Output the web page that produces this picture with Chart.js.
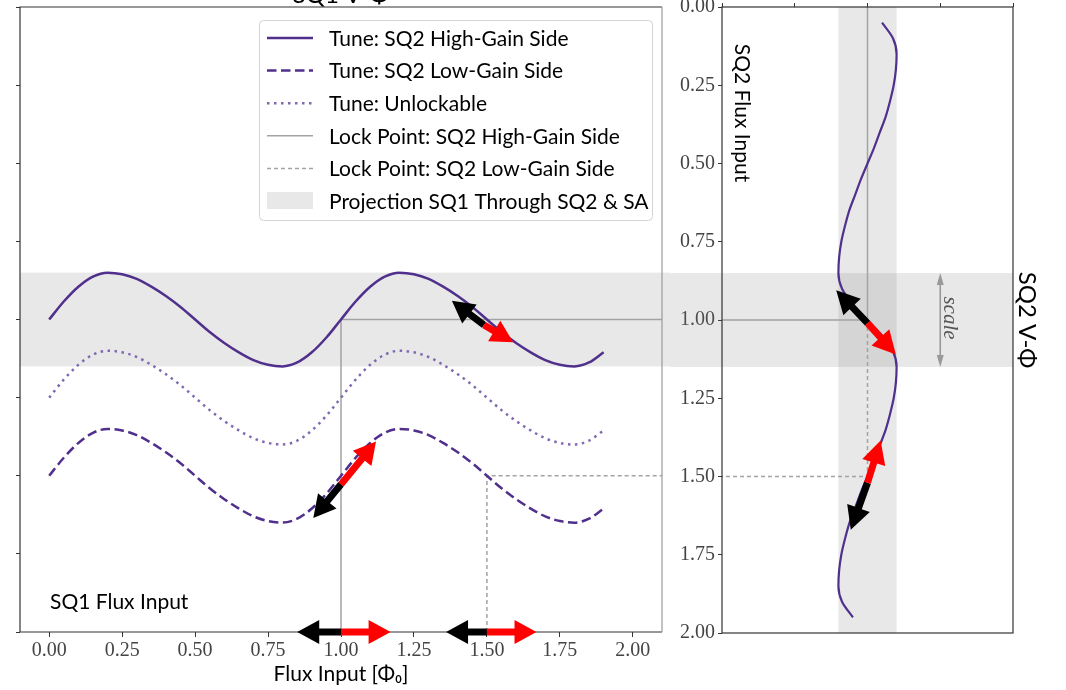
<!DOCTYPE html>
<html><head><meta charset="utf-8">
<script src="https://cdn.jsdelivr.net/npm/chart.js@4.4.1/dist/chart.umd.min.js"></script>
<style>
html,body{margin:0;padding:0;background:#fff;}
#wrap{position:relative;width:1066px;height:690px;overflow:hidden;background:#fff;}
canvas{position:absolute;top:0;}
#c1{left:0;} #c2{left:670px;}
</style></head><body>
<div id="wrap"><canvas id="c1" width="670" height="690"></canvas><canvas id="c2" width="396" height="690"></canvas></div>
<script>
// ---------------- data ----------------
const sq1Flux = [0,0.05,0.10,0.15,0.20,0.25,0.30,0.35,0.40,0.45,0.50,0.55,0.60,0.65,0.70,0.75,0.80,0.85,0.90,0.95,
                 1.00,1.05,1.10,1.15,1.20,1.25,1.30,1.35,1.40,1.45,1.50,1.55,1.60,1.65,1.70,1.75,1.80,1.85,1.90];
const highGainV = [4.00,4.23,4.42,4.55,4.60,4.58,4.52,4.42,4.30,4.16,4.00,3.84,3.70,3.58,3.48,3.42,3.40,3.45,3.58,3.77,
                   4.00,4.23,4.42,4.55,4.60,4.58,4.52,4.42,4.30,4.16,4.00,3.84,3.70,3.58,3.48,3.42,3.40,3.45,3.58];
const lowGainV  = [2.00,2.23,2.42,2.55,2.60,2.58,2.52,2.42,2.30,2.16,2.00,1.84,1.70,1.58,1.48,1.42,1.40,1.45,1.58,1.77,
                   2.00,2.23,2.42,2.55,2.60,2.58,2.52,2.42,2.30,2.16,2.00,1.84,1.70,1.58,1.48,1.42,1.40,1.45,1.58];
const unlockV   = [3.00,3.23,3.42,3.55,3.60,3.58,3.52,3.42,3.30,3.16,3.00,2.84,2.70,2.58,2.48,2.42,2.40,2.45,2.58,2.77,
                   3.00,3.23,3.42,3.55,3.60,3.58,3.52,3.42,3.30,3.16,3.00,2.84,2.70,2.58,2.48,2.42,2.40,2.45,2.58];
const lockHighX = [1.0, 1.0, 2.1], lockHighY = [0, 4.0, 4.0];
const lockLowX  = [1.5, 1.5, 2.1], lockLowY  = [0, 2.0, 2.0];
const sq1Band = [3.4, 4.6];
const sq1XTicks = [0,0.25,0.5,0.75,1.0,1.25,1.5,1.75,2.0];
const sq1YTicks = [0,1,2,3,4,5,6,7,8];
const sq1ArrowFrom = [[1.49,3.93],[1.49,3.93],[1.0,1.89],[1.0,1.89],[1.0,0],[1.0,0],[1.5,0],[1.5,0]];
const sq1ArrowTo   = [[1.38,4.24],[1.59,3.71],[0.905,1.46],[1.12,2.44],[0.85,0],[1.17,0],[1.36,0],[1.67,0]];
const sq1ArrowSign = ['-','+','-','+','-','+','-','+'];

const sq2Flux = [0.05,0.10,0.15,0.20,0.25,0.30,0.35,0.40,0.45,0.50,0.55,0.60,0.65,0.70,0.75,0.80,0.85,0.90,0.95,
                 1.00,1.05,1.10,1.15,1.20,1.25,1.30,1.35,1.40,1.45,1.50,1.55,1.60,1.65,1.70,1.75,1.80,1.85,1.90,1.95];
const sq2V = [0.20,0.35,0.40,0.39,0.36,0.31,0.25,0.17,0.09,0.00,-0.09,-0.17,-0.25,-0.31,-0.36,-0.39,-0.40,-0.35,-0.20,
              0.00,0.20,0.35,0.40,0.39,0.36,0.31,0.25,0.17,0.09,0.00,-0.09,-0.17,-0.25,-0.31,-0.36,-0.39,-0.40,-0.35,-0.20];
const sq2LockHighV = [0, 0, -2], sq2LockHighFlux = [0, 1.0, 1.0];
const sq2LockLowV  = [0, 0, -2], sq2LockLowFlux  = [1.0, 1.5, 1.5];
const sq2BandV = [-0.4, 0.4];
const sq2BandFlux = [0.85, 1.15];
const sq2ScaleV = 1.0, sq2ScaleFlux = [0.85, 1.15];
const sq2FluxTicks = [0,0.25,0.5,0.75,1.0,1.25,1.5,1.75,2.0];
const sq2VTicks = [-2,-1,0,1,2];
const sq2ArrowFrom = [[0,1.01],[0,1.01],[0,1.52],[0,1.52]];
const sq2ArrowTo   = [[-0.43,0.905],[0.39,1.11],[-0.23,1.67],[0.18,1.385]];
const sq2ArrowSign = ['-','+','-','+'];

const legendLabels = ['Tune: SQ2 High-Gain Side','Tune: SQ2 Low-Gain Side','Tune: Unlockable',
  'Lock Point: SQ2 High-Gain Side','Lock Point: SQ2 Low-Gain Side','Projection SQ1 Through SQ2 & SA'];

// ---------------- styles ----------------
const PURPLE = '#50308c', PURPLE_LIGHT = '#8069b0', LOCK_GRAY = '#a3a3a3', BAND = 'rgba(128,128,128,0.18)';
const SANS = 'Lato', SERIF = 'Liberation Serif';
const ARROW_COL = {'-':'#000000', '+':'#ff0000'};
Chart.defaults.font.family = SANS;

const pts = (xs, ys) => xs.map((x, i) => ({x: x, y: ys[i]}));

function arrow(ctx, x0, y0, x1, y1, color, sw, hw, hl) {
  const dx = x1 - x0, dy = y1 - y0, L = Math.hypot(dx, dy);
  const ux = dx / L, uy = dy / L, px = -uy, py = ux;
  const h = Math.min(hl, L);
  const bx = x1 - ux * h, by = y1 - uy * h;
  ctx.beginPath();
  ctx.moveTo(x0 + px * sw / 2, y0 + py * sw / 2);
  ctx.lineTo(bx + px * sw / 2, by + py * sw / 2);
  ctx.lineTo(bx + px * hw / 2, by + py * hw / 2);
  ctx.lineTo(x1, y1);
  ctx.lineTo(bx - px * hw / 2, by - py * hw / 2);
  ctx.lineTo(bx - px * sw / 2, by - py * sw / 2);
  ctx.lineTo(x0 - px * sw / 2, y0 - py * sw / 2);
  ctx.closePath();
  ctx.fillStyle = color;
  ctx.fill();
}
const zeroPad = s => { s.paddingTop = 0; s.paddingBottom = 0; s.paddingLeft = 0; s.paddingRight = 0; };

// ---------------- left chart: SQ1 ----------------
const sq1Plugin = {
  id: 'sq1deco',
  beforeDatasetsDraw(chart) {
    const {ctx, chartArea: a, scales: {y}} = chart;
    const t = y.getPixelForValue(sq1Band[1]), b = y.getPixelForValue(sq1Band[0]);
    ctx.save(); ctx.fillStyle = BAND; ctx.fillRect(a.left, t, chart.width - a.left, b - t); ctx.restore();
  },
  afterDatasetsDraw(chart) {
    const {ctx, chartArea: a, scales: {x, y}} = chart;
    ctx.save();
    ctx.lineWidth = 1.2;
    ctx.strokeStyle = '#333';
    ctx.beginPath();
    ctx.moveTo(a.right, a.top); ctx.lineTo(a.left, a.top); ctx.lineTo(a.left, a.bottom); ctx.lineTo(a.right, a.bottom);
    ctx.stroke();
    ctx.strokeStyle = '#9a9a9a';
    ctx.beginPath(); ctx.moveTo(a.right, a.top); ctx.lineTo(a.right, a.bottom); ctx.stroke();
    sq1ArrowFrom.forEach((f, i) => {
      const t = sq1ArrowTo[i];
      arrow(ctx, x.getPixelForValue(f[0]), y.getPixelForValue(f[1]), x.getPixelForValue(t[0]), y.getPixelForValue(t[1]),
            ARROW_COL[sq1ArrowSign[i]], 7, 24, 22);
    });
    ctx.restore();
  },
  afterDraw(chart) {
    const {ctx, chartArea: a} = chart;
    ctx.save();
    // clipped title
    ctx.font = '24px ' + SANS; ctx.fillStyle = '#000'; ctx.textAlign = 'center'; ctx.textBaseline = 'alphabetic';
    ctx.fillText('SQ1 V-Φ', (a.left + a.right) / 2, 2.5);
    // in-panel label
    ctx.font = '21px ' + SANS; ctx.textAlign = 'left';
    ctx.fillText('SQ1 Flux Input', 50, 609);
    // legend
    const lx = 259, ly = 20, lw = 393, lh = 200;
    ctx.beginPath(); ctx.roundRect(lx + 0.5, ly + 0.5, lw, lh, 4);
    ctx.fillStyle = 'rgba(255,255,255,0.85)'; ctx.fill();
    ctx.strokeStyle = '#d4d4d4'; ctx.lineWidth = 1; ctx.stroke();
    const ds = chart.data.datasets;
    for (let i = 0; i < legendLabels.length; i++) {
      const yc = 38 + i * 32.6;
      if (i < 5) {
        const d = ds[i];
        ctx.save();
        ctx.strokeStyle = d.borderColor; ctx.lineWidth = d.borderWidth; ctx.setLineDash(d.borderDash || []);
        ctx.beginPath(); ctx.moveTo(267, yc); ctx.lineTo(313, yc); ctx.stroke();
        ctx.restore();
      } else {
        ctx.fillStyle = BAND; ctx.fillRect(267, yc - 9, 46, 17);
      }
      ctx.fillStyle = '#000'; ctx.font = '21px ' + SANS; ctx.textAlign = 'left'; ctx.textBaseline = 'middle';
      ctx.fillText(legendLabels[i], 329, yc + 1);
    }
    ctx.restore();
  }
};

new Chart(document.getElementById('c1'), {
  type: 'line',
  data: {
    datasets: [
      {label: legendLabels[0], data: pts(sq1Flux, highGainV), borderColor: PURPLE, borderWidth: 2.5, pointRadius: 0, cubicInterpolationMode: 'monotone'},
      {label: legendLabels[1], data: pts(sq1Flux, lowGainV), borderColor: PURPLE, borderWidth: 2.5, borderDash: [9.5, 4.5], pointRadius: 0, cubicInterpolationMode: 'monotone'},
      {label: legendLabels[2], data: pts(sq1Flux, unlockV), borderColor: PURPLE_LIGHT, borderWidth: 2.5, borderDash: [2.5, 4.5], pointRadius: 0, cubicInterpolationMode: 'monotone'},
      {label: legendLabels[3], data: pts(lockHighX, lockHighY), borderColor: LOCK_GRAY, borderWidth: 1.5, pointRadius: 0, tension: 0},
      {label: legendLabels[4], data: pts(lockLowX, lockLowY), borderColor: LOCK_GRAY, borderWidth: 1.5, borderDash: [4, 3], pointRadius: 0, tension: 0}
    ]
  },
  options: {
    responsive: false, animation: false, devicePixelRatio: 1,
    layout: {padding: {top: 7, right: 8, left: 0, bottom: 0}},
    plugins: {legend: {display: false}, tooltip: {enabled: false}},
    scales: {
      x: {type: 'linear', min: -0.1, max: 2.1,
          afterBuildTicks: s => { s.ticks = sq1XTicks.map(v => ({value: v})); },
          ticks: {callback: v => Number(v).toFixed(2), font: {family: SERIF, size: 20}, color: '#444', padding: 2, maxRotation: 0, autoSkip: false},
          grid: {drawOnChartArea: false, drawTicks: true, tickLength: 5, color: '#333'},
          border: {display: false},
          title: {display: true, text: 'Flux Input [Φ₀]', font: {family: SANS, size: 21}, color: '#000', padding: {top: 0, bottom: 3}},
          afterFit: s => { s.height = 58; zeroPad(s); }},
      y: {type: 'linear', min: 0, max: 8,
          afterBuildTicks: s => { s.ticks = sq1YTicks.map(v => ({value: v})); },
          ticks: {callback: () => '', padding: 0},
          grid: {drawOnChartArea: false, drawTicks: true, tickLength: 4, color: '#333'},
          border: {display: false},
          afterFit: s => { s.width = 20; zeroPad(s); }}
    }
  },
  plugins: [sq1Plugin]
});

// ---------------- right chart: SQ2 ----------------
const sq2Plugin = {
  id: 'sq2deco',
  beforeDatasetsDraw(chart) {
    const {ctx, chartArea: a, scales: {x, y}} = chart;
    ctx.save(); ctx.fillStyle = BAND;
    const t = y.getPixelForValue(sq2BandFlux[0]), b = y.getPixelForValue(sq2BandFlux[1]);
    ctx.fillRect(0, t, a.right, b - t);
    const l = x.getPixelForValue(sq2BandV[0]), r = x.getPixelForValue(sq2BandV[1]);
    ctx.fillRect(l, a.top, r - l, a.bottom - a.top);
    ctx.restore();
  },
  afterDatasetsDraw(chart) {
    const {ctx, chartArea: a, scales: {x, y}} = chart;
    ctx.save();
    ctx.lineWidth = 1.2; ctx.strokeStyle = '#333';
    ctx.strokeRect(a.left, a.top, a.right - a.left, a.bottom - a.top);
    sq2ArrowFrom.forEach((f, i) => {
      const t = sq2ArrowTo[i];
      arrow(ctx, x.getPixelForValue(f[0]), y.getPixelForValue(f[1]), x.getPixelForValue(t[0]), y.getPixelForValue(t[1]),
            ARROW_COL[sq2ArrowSign[i]], 7, 24, 23);
    });
    // scale double arrow
    const sx = x.getPixelForValue(sq2ScaleV), s0 = y.getPixelForValue(sq2ScaleFlux[0]), s1 = y.getPixelForValue(sq2ScaleFlux[1]);
    arrow(ctx, sx, (s0 + s1) / 2, sx, s0, '#999', 1.6, 7, 12);
    arrow(ctx, sx, (s0 + s1) / 2, sx, s1, '#999', 1.6, 7, 12);
    ctx.font = 'italic 21px ' + SERIF; ctx.fillStyle = '#555'; ctx.textAlign = 'center'; ctx.textBaseline = 'middle';
    ctx.translate(sx + 9, (s0 + s1) / 2 - 2); ctx.rotate(Math.PI / 2);
    ctx.fillText('scale', 0, 0);
    ctx.restore();
    ctx.save();
    ctx.font = '21px ' + SANS; ctx.fillStyle = '#000'; ctx.textAlign = 'center'; ctx.textBaseline = 'middle';
    ctx.translate(a.left + 20, 113); ctx.rotate(Math.PI / 2);
    ctx.fillText('SQ2 Flux Input', 0, 0);
    ctx.restore();
  }
};

new Chart(document.getElementById('c2'), {
  type: 'line',
  data: {
    datasets: [
      {data: pts(sq2V, sq2Flux), borderColor: PURPLE, borderWidth: 2.2, pointRadius: 0, cubicInterpolationMode: 'monotone'},
      {data: pts(sq2LockHighV, sq2LockHighFlux), borderColor: LOCK_GRAY, borderWidth: 1.5, pointRadius: 0, tension: 0},
      {data: pts(sq2LockLowV, sq2LockLowFlux), borderColor: LOCK_GRAY, borderWidth: 1.5, borderDash: [4, 3], pointRadius: 0, tension: 0}
    ]
  },
  options: {
    indexAxis: 'y',
    responsive: false, animation: false, devicePixelRatio: 1,
    layout: {padding: {top: 0, right: 0, left: 0, bottom: 57}},
    plugins: {legend: {display: false}, tooltip: {enabled: false}},
    scales: {
      x: {type: 'linear', position: 'top', min: -2, max: 2,
          afterBuildTicks: s => { s.ticks = sq2VTicks.map(v => ({value: v})); },
          ticks: {callback: () => '', padding: 0},
          grid: {drawOnChartArea: false, drawTicks: true, tickLength: 4, color: '#333'},
          border: {display: false},
          afterFit: s => { s.height = 7; zeroPad(s); }},
      y: {type: 'linear', position: 'left', reverse: true, min: 0, max: 2,
          afterBuildTicks: s => { s.ticks = sq2FluxTicks.map(v => ({value: v})); },
          ticks: {callback: v => Number(v).toFixed(2), font: {family: SERIF, size: 20}, color: '#444', padding: 3, autoSkip: false},
          grid: {drawOnChartArea: false, drawTicks: true, tickLength: 4, color: '#333'},
          border: {display: false},
          afterFit: s => { s.width = 52; zeroPad(s); }},
      y2: {type: 'linear', position: 'right', reverse: true, min: 0, max: 2,
           ticks: {display: false}, grid: {display: false}, border: {display: false},
           title: {display: true, text: 'SQ2 V-Φ', font: {family: SANS, size: 24}, color: '#000', padding: {top: 25, bottom: 0}},
           afterFit: s => { s.width = 53; zeroPad(s); }}
    }
  },
  plugins: [sq2Plugin]
});
</script>
</body></html>
